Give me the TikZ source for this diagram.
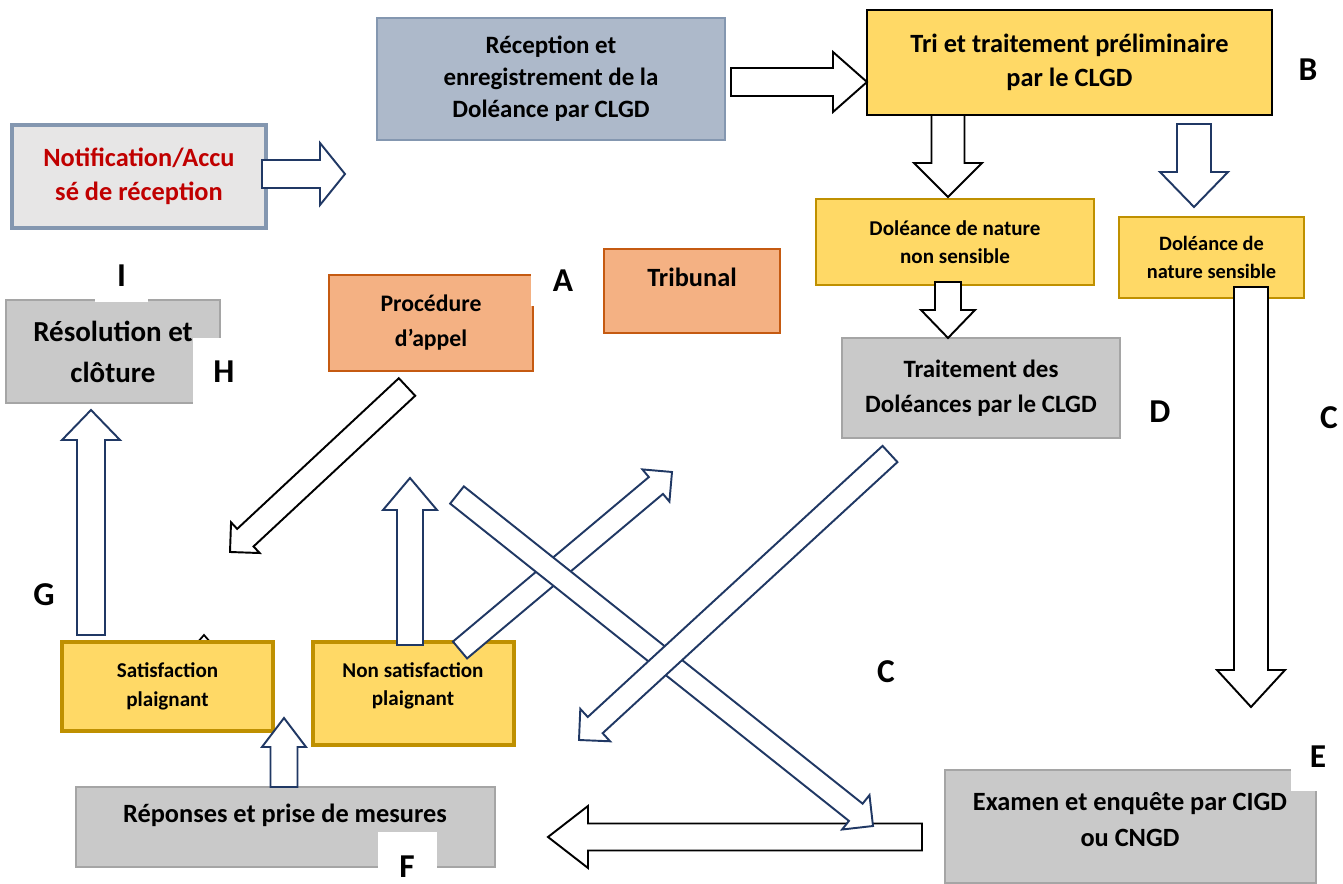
\documentclass[tikz,border=0pt]{standalone}
\usepackage{fontspec}
\setmainfont{Carlito}
\usetikzlibrary{calc}
\definecolor{navy}{RGB}{32,56,100}
\definecolor{slate}{RGB}{173,185,202}
\definecolor{slateline}{RGB}{132,151,176}
\definecolor{gold}{RGB}{255,217,102}
\definecolor{goldline}{RGB}{191,144,0}
\definecolor{greyfill}{RGB}{201,201,201}
\definecolor{greyline}{RGB}{165,165,165}
\definecolor{peach}{RGB}{244,177,131}
\definecolor{peachline}{RGB}{197,90,17}
\definecolor{paleg}{RGB}{231,230,230}
\definecolor{darkred}{RGB}{192,0,0}

% block arrow: [style]{tail}{tip}{shaft half}{head half}{head length}
\newcommand{\blockarr}[6][]{%
  \coordinate (bh) at ($(#3)!#6*0.02cm!(#2)$);
  \path[blockline,#1] ($(#2)!#4*0.02cm!90:(#3)$) -- ($(bh)!#4*0.02cm!90:(#3)$)
    -- ($(bh)!#5*0.02cm!90:(#3)$) -- (#3) -- ($(bh)!#5*0.02cm!-90:(#3)$)
    -- ($(bh)!#4*0.02cm!-90:(#3)$) -- ($(#2)!#4*0.02cm!-90:(#3)$) -- cycle;}

\begin{document}
\begin{tikzpicture}[x=0.02cm,y=-0.02cm,
  sz/.style 2 args={minimum width=#1*0.02cm,minimum height=#2*0.02cm},
  box/.style={draw,inner sep=0pt,align=center},
  slatebox/.style={box,fill=slate,draw=slateline,line width=1.2pt},
  goldbox/.style={box,fill=gold,draw=goldline,line width=1.2pt},
  greybox/.style={box,fill=greyfill,draw=greyline,line width=1.2pt},
  peachbox/.style={box,fill=peach,draw=peachline,line width=1.2pt},
  txtL/.style={font=\fontsize{15}{19.3}\selectfont\bfseries,align=center},
  txtM/.style={font=\fontsize{14.2}{19.9}\selectfont\bfseries,align=center},
  txtS/.style={font=\fontsize{12}{16.2}\selectfont\bfseries,align=center},
  tag/.style={font=\fontsize{19}{22}\selectfont\bfseries,inner sep=0pt},
  cover/.style={tag,fill=white},
  blockline/.style={draw=black,fill=white,line width=1.1pt,line join=miter},
  navyline/.style={draw=navy},
]
\path[use as bounding box,fill=white] (0,0) rectangle (1343,884);

\draw[line width=1pt] (197,643) -- (204,635) -- (211,643);

\node[slatebox,sz={348}{122},font=\fontsize{14.2}{18.2}\selectfont\bfseries] (recep) at (551,79) {Réception et\\enregistrement de la\\Doléance par CLGD};
\node[goldbox,sz={405}{105},draw=black,line width=1.5pt,txtL] (tri) at (1069.5,62.5) {Tri et traitement préliminaire\\par le CLGD};
\node[box,sz={254}{103},fill=paleg,draw=slateline,line width=2.3pt,txtL,text=darkred] (notif) at (139,176.5) {Notification/Accu\\sé de réception};
\node[greybox,sz={214}{103},font=\fontsize{16.5}{23.3}\selectfont\bfseries] (resol) at (113,351.5) {Résolution et\\clôture};
\node[peachbox,sz={204}{96},font=\fontsize{13.5}{19.9}\selectfont\bfseries] (appel) at (431,323) {Procédure\\d’appel};
\node[peachbox,sz={176}{84}] (trib) at (692,291) {};
\node[txtL] (tribtxt) at (692,277) {Tribunal};
\node[goldbox,sz={278}{86},txtS] (nonsens) at (955,242) {Doléance de nature\\non sensible};
\node[goldbox,sz={185}{81},font=\fontsize{11.6}{16.2}\selectfont\bfseries] (sens) at (1211.5,257.5) {Doléance de\\nature sensible};
\node[greybox,sz={278}{100},txtM] (trait) at (981,388) {Traitement des\\Doléances par le CLGD};
\node[greybox,sz={371}{113}] (exam) at (1130.5,826.5) {};
\node[txtL,font=\fontsize{15}{20.5}\selectfont\bfseries] (examtxt) at (1130,820) {Examen et enquête par CIGD\\ou CNGD};
\node[greybox,sz={419}{80}] (rep) at (285.5,827) {};
\node[txtL] (reptxt) at (285,815) {Réponses et prise de mesures};
\node[goldbox,sz={211}{89},line width=2.8pt,txtS] (sat) at (167.5,686.5) {Satisfaction\\plaignant};
\node[goldbox,sz={201}{103},line width=2.8pt] (nonsat) at (413.5,693.5) {};
\node[txtS] (nonsattxt) at (413,686) {Non satisfaction\\plaignant};

\node[cover,sz={53}{52}] (tagI) at (121.5,276) {I};
\node[cover,sz={62}{68}] (tagH) at (224,372) {H};
\node[cover,sz={64}{51}] (tagA) at (563,280.5) {A};
\node[cover,sz={54}{68}] (tagE) at (1318,757) {E};
\node[cover,sz={59}{70}] (tagF) at (407,867) {F};
\node[tag] (tagB) at (1308,70) {B};
\node[tag] (tagD) at (1160,412) {D};
\node[tag] (tagC) at (1329,418) {C};
\node[tag] (tagCc) at (886,672) {C};
\node[tag] (tagG) at (44,595) {G};

\coordinate (notifout) at (262,174);   \coordinate (notifend) at (345,174);
\coordinate (recepout) at (731,82);    \coordinate (tri-in) at (867,82);
\coordinate (tri-a) at (948,115);      \coordinate (nonsens-in) at (948,197);
\coordinate (tri-b) at (1194,124);     \coordinate (sens-in) at (1194,207);
\coordinate (nonsens-out) at (948,282); \coordinate (trait-in) at (948,338);
\coordinate (sens-out) at (1251,287);  \coordinate (exam-in) at (1251,707);
\coordinate (exam-out) at (922,837);   \coordinate (rep-in) at (548,837);
\coordinate (rep-out) at (284,787);    \coordinate (repend) at (284,718);
\coordinate (sat-out) at (91,635);     \coordinate (resol-in) at (91,410);
\coordinate (nonsat-out) at (410,645); \coordinate (nonsatend) at (410,478);
\coordinate (appel-out) at (407,387);  \coordinate (appelend) at (230,552);
\coordinate (nonsat-diag) at (460,650); \coordinate (trib-in) at (672,472);
\coordinate (trait-out) at (890,454);  \coordinate (traitend) at (579,740);
\coordinate (cross-out) at (457,495);  \coordinate (crossend) at (873,826);

\blockarr[navyline]{notifout}{notifend}{14}{31}{25}
\blockarr{recepout}{tri-in}{14}{30}{34}
\blockarr{tri-a}{nonsens-in}{16.5}{34}{34}
\blockarr[navyline]{tri-b}{sens-in}{17}{34}{35}
\blockarr{nonsens-out}{trait-in}{13}{27}{28}
\blockarr{sens-out}{exam-in}{17}{34}{37}
\blockarr{exam-out}{rep-in}{13.5}{31}{40}
\blockarr[navyline]{rep-out}{repend}{13.5}{22}{29}
\blockarr[navyline]{sat-out}{resol-in}{14}{29}{30}
\blockarr[navyline]{nonsat-out}{nonsatend}{13}{27}{32}
\blockarr{appel-out}{appelend}{12}{21}{21}
\blockarr[navyline]{nonsat-diag}{trib-in}{11}{21}{21}
\blockarr[navyline]{cross-out}{crossend}{11}{22}{22}
\blockarr[navyline]{trait-out}{traitend}{11}{22}{22}
\end{tikzpicture}
\end{document}
